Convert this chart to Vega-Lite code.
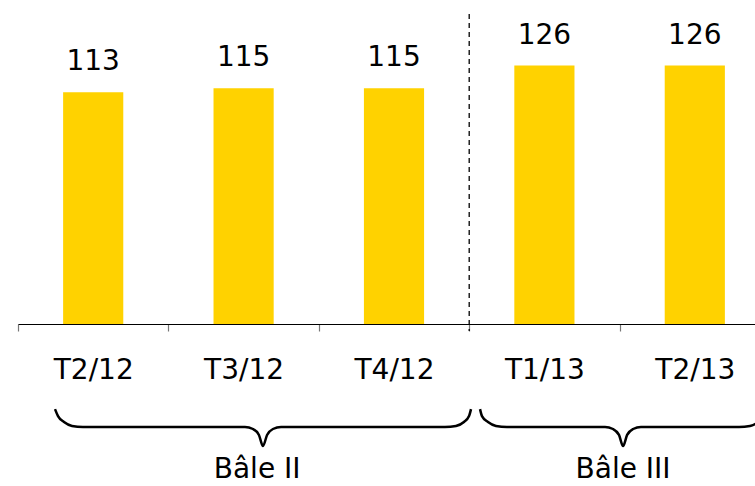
{
  "$schema": "https://vega.github.io/schema/vega-lite/v6.json",
  "width": 737,
  "height": 324,
  "autosize": {"type": "none"},
  "padding": {"left": 18, "top": 0, "right": 0, "bottom": 162},
  "config": {"view": {"stroke": null}, "font": "DejaVu Sans"},
  "datasets": {
    "bars": [
      {"q": "T2/12", "v": 113},
      {"q": "T3/12", "v": 115},
      {"q": "T4/12", "v": 115},
      {"q": "T1/13", "v": 126},
      {"q": "T2/13", "v": 126}
    ],
    "braces": [
      {"g": 1, "x": 0.246, "y": -41.5},
      {"g": 1, "x": 0.266, "y": -44.9},
      {"g": 1, "x": 0.306, "y": -47.8},
      {"g": 1, "x": 0.359, "y": -49.7},
      {"g": 1, "x": 0.432, "y": -50.2},
      {"g": 1, "x": 1.509, "y": -50.2},
      {"g": 1, "x": 1.5625, "y": -51.2},
      {"g": 1, "x": 1.602, "y": -54.1},
      {"g": 1, "x": 1.629, "y": -59.5},
      {"g": 1, "x": 1.656, "y": -54.1},
      {"g": 1, "x": 1.695, "y": -51.2},
      {"g": 1, "x": 1.749, "y": -50.2},
      {"g": 1, "x": 2.839, "y": -50.2},
      {"g": 1, "x": 2.912, "y": -49.7},
      {"g": 1, "x": 2.965, "y": -47.8},
      {"g": 1, "x": 2.999, "y": -44.9},
      {"g": 1, "x": 3.012, "y": -41.5},
      {"g": 2, "x": 3.072, "y": -41.5},
      {"g": 2, "x": 3.085, "y": -44.9},
      {"g": 2, "x": 3.125, "y": -47.8},
      {"g": 2, "x": 3.178, "y": -49.7},
      {"g": 2, "x": 3.251, "y": -50.2},
      {"g": 2, "x": 3.903, "y": -50.2},
      {"g": 2, "x": 3.956, "y": -51.2},
      {"g": 2, "x": 3.996, "y": -54.1},
      {"g": 2, "x": 4.023, "y": -59.5},
      {"g": 2, "x": 4.05, "y": -54.1},
      {"g": 2, "x": 4.09, "y": -51.2},
      {"g": 2, "x": 4.142, "y": -50.2},
      {"g": 2, "x": 4.794, "y": -50.2},
      {"g": 2, "x": 4.867, "y": -49.7},
      {"g": 2, "x": 4.92, "y": -47.8},
      {"g": 2, "x": 4.953, "y": -44.9},
      {"g": 2, "x": 4.973, "y": -41.5}
    ],
    "groups": [
      {"label": "Bâle II", "x": 1.59, "y": -75.3},
      {"label": "Bâle III", "x": 4.023, "y": -75.3}
    ],
    "divider": [{"x": 3, "y": 151.2, "y2": -3.4}]
  },
  "layer": [
    {
      "data": {"name": "bars"},
      "encoding": {
        "x": {
          "field": "q",
          "type": "nominal",
          "sort": null,
          "scale": {"range": [0, 752], "paddingInner": 0, "paddingOuter": 0},
          "axis": {
            "title": null,
            "labelAngle": 0,
            "domainColor": "black",
            "domainWidth": 1.2,
            "tickColor": "#777777",
            "tickWidth": 1.2,
            "tickSize": 7,
            "tickBand": "extent",
            "labelFont": "DejaVu Sans",
            "labelFontSize": 28,
            "labelColor": "black",
            "labelPadding": 25
          }
        },
        "y": {
          "field": "v",
          "type": "quantitative",
          "scale": {"domain": [0, 158]},
          "axis": null
        }
      },
      "layer": [
        {"mark": {"type": "bar", "color": "#FFD200", "width": {"band": 0.4}}},
        {
          "mark": {
            "type": "text",
            "baseline": "alphabetic",
            "dy": -22,
            "fontSize": 28,
            "font": "DejaVu Sans",
            "color": "black"
          },
          "encoding": {"text": {"field": "v", "type": "quantitative"}}
        }
      ]
    },
    {
      "data": {"name": "braces"},
      "mark": {"type": "line", "interpolate": "monotone", "color": "black", "strokeWidth": 2.5},
      "encoding": {
        "x": {"field": "x", "type": "quantitative", "scale": {"domain": [0, 5], "range": [0, 752]}, "axis": null},
        "y": {"field": "y", "type": "quantitative", "scale": {"domain": [0, 158]}, "axis": null},
        "detail": {"field": "g", "type": "nominal"}
      }
    },
    {
      "data": {"name": "groups"},
      "mark": {"type": "text", "baseline": "alphabetic", "fontSize": 28, "font": "DejaVu Sans", "color": "black"},
      "encoding": {
        "x": {"field": "x", "type": "quantitative", "scale": {"domain": [0, 5], "range": [0, 752]}, "axis": null},
        "y": {"field": "y", "type": "quantitative", "scale": {"domain": [0, 158]}, "axis": null},
        "text": {"field": "label", "type": "nominal"}
      }
    },
    {
      "data": {"name": "divider"},
      "mark": {"type": "rule", "color": "black", "strokeWidth": 1.3, "strokeDash": [5, 4]},
      "encoding": {
        "x": {"field": "x", "type": "quantitative", "scale": {"domain": [0, 5], "range": [0, 752]}, "axis": null},
        "y": {"field": "y", "type": "quantitative", "scale": {"domain": [0, 158]}, "axis": null},
        "y2": {"field": "y2"}
      }
    }
  ],
  "resolve": {"scale": {"x": "independent"}}
}
